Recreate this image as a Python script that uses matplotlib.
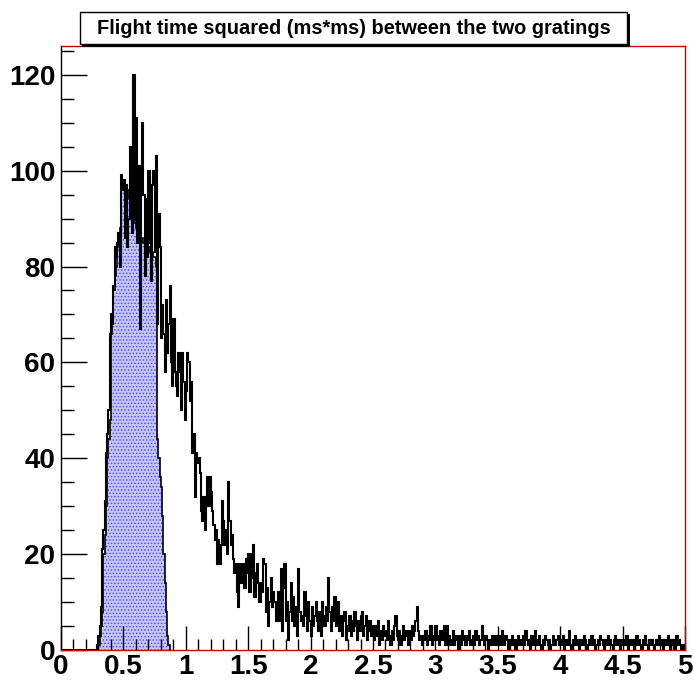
import numpy as np
import matplotlib.pyplot as plt
from matplotlib.patches import Rectangle
from matplotlib.ticker import MultipleLocator

# ---------------- DATOS ----------------
# histograma negro: 500 bins de 0.01 entre 0 y 5
x_min, x_max, n_bins = 0.0, 5.0, 500

counts_000 = [0] * 29
counts_029 = [1, 3, 5, 9, 21, 25, 31, 41, 45, 50, 66]
counts_040 = [70, 68, 76, 84, 82, 85, 87, 80, 99, 96]
counts_050 = [98, 86, 97, 84, 90, 105, 100, 87, 120, 90]
counts_060 = [111, 85, 101, 67, 96, 110, 95, 78, 94, 82]
counts_070 = [100, 85, 77, 97, 100, 83, 103, 68, 91, 84]
counts_080 = [65, 72, 66, 58, 73, 62, 68, 76, 60, 55]
counts_090 = [69, 58, 55, 53, 62, 58, 50, 62, 56, 48]
counts_100 = [54, 62, 60, 52, 56, 41, 45, 32, 41, 39]
counts_110 = [40, 37, 29, 27, 32, 25, 31, 36, 30, 36]
counts_120 = [33, 29, 26, 23, 25, 18, 23, 18, 22, 31]
counts_130 = [27, 22, 25, 20, 35, 27, 22, 24, 19, 16]
counts_140 = [18, 12, 9, 18, 14, 17, 18, 13, 19, 16]
counts_150 = [20, 12, 20, 15, 22, 11, 16, 18, 14, 10]
counts_160 = [14, 12, 19, 18, 8, 13, 5, 10, 15, 9]
counts_170 = [12, 10, 6, 9, 12, 6, 17, 4, 13, 18]
counts_180 = [6, 10, 2, 8, 14, 6, 11, 5, 9, 3]
counts_190 = [17, 8, 6, 7, 5, 12, 7, 4, 10, 6]
counts_200 = [3, 9, 5, 7, 10, 6, 4, 8, 3, 10]
counts_210 = [7, 5, 9, 6, 15, 8, 4, 9, 6, 11]
counts_220 = [5, 8, 10, 4, 7, 3, 6, 8, 2, 5]
counts_230 = [4, 7, 3, 6, 4, 8, 5, 2, 6, 4]
counts_240 = [7, 8, 3, 5, 7, 2, 4, 6, 3, 5]
counts_250 = [4, 2, 5, 3, 6, 1, 4, 2, 5, 3]
counts_260 = [4, 2, 6, 3, 1, 4, 2, 5, 7, 3]
counts_270 = [2, 4, 1, 3, 5, 2, 4, 3, 1, 4]
counts_280 = [2, 5, 3, 4, 6, 9, 4, 2, 3, 1]
counts_290 = [3, 2, 4, 1, 3, 2, 5, 1, 3, 2]
counts_300 = [5, 2, 3, 1, 4, 2, 3, 5, 1, 5]
counts_310 = [2, 3, 1, 2, 4, 1, 3, 2, 0, 3]
counts_320 = [1, 4, 2, 3, 1, 3, 2, 4, 1, 2]
counts_330 = [3, 1, 4, 2, 3, 1, 2, 5, 3, 1]
counts_340 = [3, 2, 0, 2, 1, 3, 2, 1, 3, 1]
counts_350 = [2, 3, 1, 4, 2, 1, 3, 2, 0, 2]
counts_360 = [1, 3, 1, 2, 0, 2, 3, 1, 2, 1]
counts_370 = [3, 1, 4, 2, 1, 2, 0, 3, 1, 2]
counts_380 = [4, 1, 2, 3, 1, 0, 2, 1, 3, 2]
counts_390 = [1, 2, 0, 1, 3, 2, 1, 2, 3, 1]
counts_400 = [2, 1, 3, 0, 2, 1, 2, 4, 1, 0]
counts_410 = [2, 1, 3, 1, 2, 0, 1, 2, 1, 3]
counts_420 = [2, 0, 1, 2, 1, 3, 1, 2, 0, 1]
counts_430 = [2, 1, 3, 2, 1, 0, 2, 1, 3, 1]
counts_440 = [2, 1, 0, 2, 3, 1, 2, 1, 0, 2]
counts_450 = [1, 2, 1, 3, 0, 1, 2, 1, 2, 0]
counts_460 = [1, 3, 1, 2, 1, 0, 2, 1, 3, 1]
counts_470 = [0, 2, 1, 2, 1, 0, 1, 2, 1, 3]
counts_480 = [1, 2, 0, 1, 2, 1, 3, 1, 0, 2]
counts_490 = [1, 2, 0, 3, 1, 2, 1, 0, 1, 0]

counts = (counts_000 + counts_029 + counts_040 + counts_050 + counts_060 + counts_070
          + counts_080 + counts_090 + counts_100 + counts_110 + counts_120 + counts_130
          + counts_140 + counts_150 + counts_160 + counts_170 + counts_180 + counts_190
          + counts_200 + counts_210 + counts_220 + counts_230 + counts_240 + counts_250
          + counts_260 + counts_270 + counts_280 + counts_290 + counts_300 + counts_310
          + counts_320 + counts_330 + counts_340 + counts_350 + counts_360 + counts_370
          + counts_380 + counts_390 + counts_400 + counts_410 + counts_420 + counts_430
          + counts_440 + counts_450 + counts_460 + counts_470 + counts_480 + counts_490)

# histograma azul (relleno): bins de 0.01 desde 0.30
blue_start = 0.30
blue_counts = [1, 3, 5, 8, 20, 24, 30, 40, 44, 48,
               66, 70, 75, 78, 80, 84, 86, 88, 96, 98,
               97, 95, 93, 94, 96, 95, 94, 92, 90, 89,
               88, 88, 87, 88, 86, 86, 85, 86, 85, 84,
               84, 83, 84, 83, 82, 82, 80, 44, 40, 36,
               34, 28, 20, 14, 8, 3, 1]

title = "Flight time squared (ms*ms) between the two gratings"
y_max = 126

# ---------------- GRÁFICO ----------------
W, H = 694, 684
fig = plt.figure(figsize=(W / 100, H / 100), dpi=100)
ax = fig.add_axes([61 / W, 1 - 650 / H, (685 - 61) / W, (650 - 46) / H])

edges = np.linspace(x_min, x_max, n_bins + 1)
blue_edges = blue_start + 0.01 * np.arange(len(blue_counts) + 1)

plt.rcParams['hatch.linewidth'] = 0.6
ax.stairs(blue_counts, blue_edges, fill=True, facecolor='#c4c4f7',
          edgecolor='#4848f0', linewidth=0, hatch='.....', zorder=1)
ax.stairs(blue_counts, blue_edges, color='black', linewidth=1.2, zorder=2)
ax.stairs(counts, edges, color='black', linewidth=1.5, zorder=3)

ax.set_xlim(x_min, x_max)
ax.set_ylim(0, y_max)

for side in ['top', 'right', 'bottom']:
    ax.spines[side].set_color('#cc0000')
ax.spines['left'].set_color('black')
for s in ax.spines.values():
    s.set_linewidth(1.0)
    s.set_zorder(5)

ax.xaxis.set_major_locator(MultipleLocator(0.5))
ax.xaxis.set_minor_locator(MultipleLocator(0.1))
ax.yaxis.set_major_locator(MultipleLocator(20))
ax.yaxis.set_minor_locator(MultipleLocator(5))
ax.tick_params(which='both', direction='in', top=False, right=False, color='black', width=1)
ax.tick_params(axis='x', which='major', length=17, pad=3)
ax.tick_params(axis='x', which='minor', length=8)
ax.tick_params(axis='y', which='major', length=19, pad=4)
ax.tick_params(axis='y', which='minor', length=9)
ax.set_xticks(np.arange(0, 5.01, 0.5))
ax.set_xticklabels(['0', '0.5', '1', '1.5', '2', '2.5', '3', '3.5', '4', '4.5', '5'])
for lab in ax.get_xticklabels() + ax.get_yticklabels():
    lab.set_fontfamily('Liberation Sans')
    lab.set_fontweight('bold')
    lab.set_fontsize(20)

# caja del título con sombra
fig.patches.append(Rectangle((82 / W, 1 - 47 / H), (630 - 82) / W, (47 - 14) / H,
                             transform=fig.transFigure, facecolor='black',
                             edgecolor='none', zorder=6))
fig.patches.append(Rectangle((80 / W, 1 - 44 / H), (627 - 80) / W, (44 - 12) / H,
                             transform=fig.transFigure, facecolor='white',
                             edgecolor='black', linewidth=1, zorder=7))
fig.text(353.5 / W, 1 - 28 / H, title, ha='center', va='center',
         fontfamily='Liberation Sans', fontweight='bold', fontsize=14.4, zorder=8)

fig.savefig('out.png', dpi=100)
